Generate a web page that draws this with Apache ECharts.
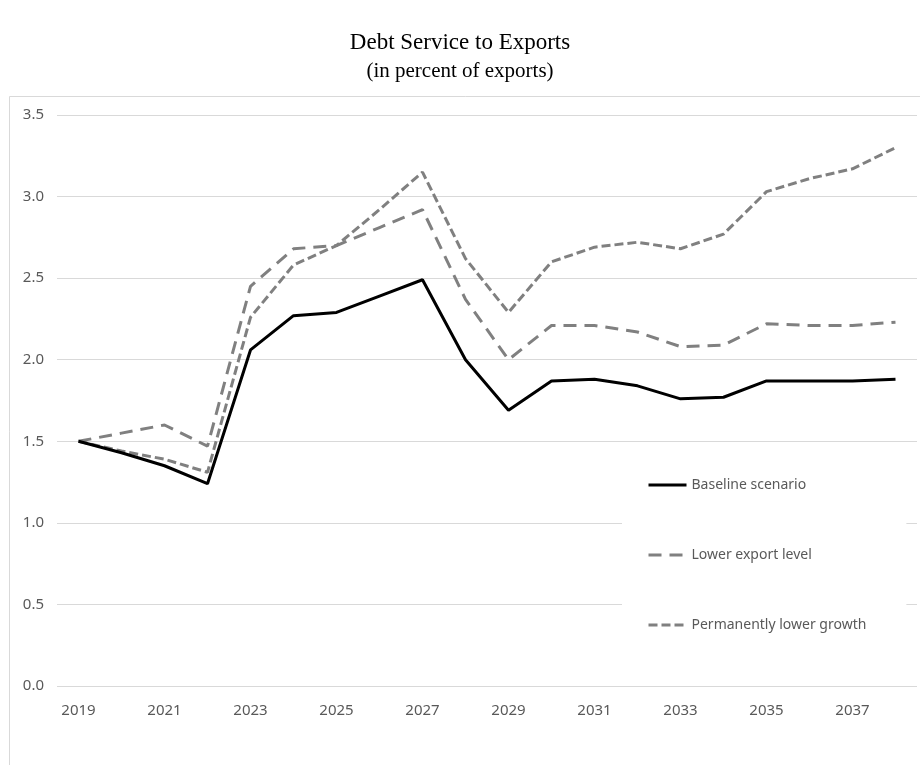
<!DOCTYPE html>
<html>
<head>
<meta charset="utf-8">
<script src="https://cdn.jsdelivr.net/npm/echarts@6/dist/echarts.min.js"></script>
<style>
  html, body { margin: 0; padding: 0; background: #fff; }
  #chart { width: 920px; height: 765px; }
</style>
</head>
<body>
<div id="chart"></div>
<script>
const years = ['2019', '2020', '2021', '2022', '2023', '2024', '2025', '2026', '2027', '2028',
               '2029', '2030', '2031', '2032', '2033', '2034', '2035', '2036', '2037', '2038'];
const baseline = [1.50, 1.43, 1.35, 1.24, 2.06, 2.27, 2.29, 2.39, 2.49, 2.00,
                  1.69, 1.87, 1.88, 1.84, 1.76, 1.77, 1.87, 1.87, 1.87, 1.88];
const lowerExport = [1.50, 1.55, 1.60, 1.47, 2.45, 2.68, 2.70, 2.81, 2.92, 2.37,
                     2.00, 2.21, 2.21, 2.17, 2.08, 2.09, 2.22, 2.21, 2.21, 2.23];
const lowerGrowth = [1.50, 1.44, 1.39, 1.31, 2.26, 2.58, 2.70, 2.92, 3.15, 2.62,
                     2.29, 2.60, 2.69, 2.72, 2.68, 2.77, 3.03, 3.11, 3.17, 3.30];
const seriesNames = ['Baseline scenario', 'Lower export level', 'Permanently lower growth'];

const chart = echarts.init(document.getElementById('chart'));

const labelFont = '"Noto Sans", "Open Sans", sans-serif';
const serifFont = '"Liberation Serif", "Times New Roman", serif';

const option = {
    backgroundColor: '#fff',
    animation: false,
    title: {
        text: 'Debt Service to Exports',
        subtext: '(in percent of exports)',
        left: 'center',
        top: 26,
        itemGap: 7,
        textStyle: {
            color: '#000',
            fontFamily: serifFont,
            fontSize: 23,
            fontWeight: 'normal'
        },
        subtextStyle: {
            color: '#000',
            fontFamily: serifFont,
            fontSize: 21
        }
    },
    graphic: [{
        type: 'rect',
        shape: { x: 9.5, y: 96.5, width: 940, height: 700 },
        style: { fill: 'none', stroke: '#d9d9d9', lineWidth: 1 },
        silent: true
    }],
    legend: {
        data: seriesNames,
        orient: 'vertical',
        left: 622,
        top: 458,
        padding: [20, 40, 24, 25],
        backgroundColor: '#fff',
        itemWidth: 38,
        itemHeight: 14,
        itemGap: 56,
        itemStyle: { opacity: 0 },
        lineStyle: { width: 3 },
        textStyle: {
            color: '#595959',
            fontFamily: labelFont,
            fontSize: 14
        }
    },
    grid: {
        left: 57,
        right: 3,
        top: 115,
        bottom: 79,
        containLabel: false
    },
    xAxis: {
        type: 'category',
        data: years,
        boundaryGap: true,
        axisLine: { show: false },
        axisTick: { show: false },
        axisLabel: {
            interval: 1,
            color: '#595959',
            fontFamily: labelFont,
            fontSize: 15,
            margin: 17
        }
    },
    yAxis: {
        type: 'value',
        min: 0,
        max: 3.5,
        interval: 0.5,
        axisLine: { show: false },
        axisTick: { show: false },
        axisLabel: {
            color: '#595959',
            fontFamily: labelFont,
            fontSize: 15,
            margin: 13,
            formatter: v => v.toFixed(1)
        },
        splitLine: { lineStyle: { color: '#d9d9d9', width: 1 } }
    },
    series: [
        {
            name: seriesNames[0],
            type: 'line',
            data: baseline,
            symbol: 'none',
            z: 5,
            lineStyle: { color: '#000', width: 3 },
            itemStyle: { color: '#000' }
        },
        {
            name: seriesNames[1],
            type: 'line',
            data: lowerExport,
            symbol: 'none',
            lineStyle: { color: '#808080', width: 3, type: [13, 8] },
            itemStyle: { color: '#808080' }
        },
        {
            name: seriesNames[2],
            type: 'line',
            data: lowerGrowth,
            symbol: 'none',
            lineStyle: { color: '#808080', width: 3, type: [9, 4] },
            itemStyle: { color: '#808080' }
        }
    ]
};

chart.setOption(option);
</script>
</body>
</html>
